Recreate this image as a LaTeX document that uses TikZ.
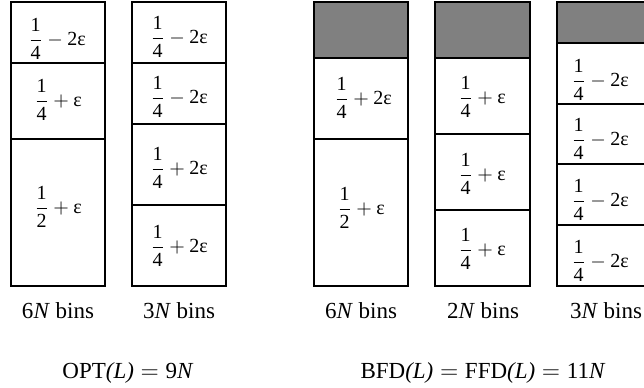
\documentclass[tikz,border=0pt]{standalone}
\usepackage{amsmath}
\usepackage{fontspec}
\setmainfont{Liberation Serif}

\newcommand{\eps}{\text{ε}}
\newcommand{\share}[2]{\dfrac{\text{#1}}{\text{#2}}}

\begin{document}
\begin{tikzpicture}[x=0.5pt,y=-0.5pt,
		bin/.style={line width=0.6pt},
		waste/.style={line width=0.6pt,fill=black!50},
		item/.style={font=\fontsize{10}{12}\selectfont},
		count/.style={anchor=base,font=\fontsize{11.5}{14}\selectfont}]
		\clip (0,0) rectangle (644,387);
		
		% OPT packing
		\draw[bin] (11,2) rectangle (105,286);
		\draw[bin] (11,63) -- (105,63);
		\draw[bin] (11,139) -- (105,139);
		\node[item] (oa1) at (57,39) {$\share{1}{4} - \text{2}\eps$};
		\node[item] (oa2) at (58,100) {$\share{1}{4} + \eps$};
		\node[item] (oa3) at (58,207) {$\share{1}{2} + \eps$};
		
		\draw[bin] (132,2) rectangle (226,286);
		\draw[bin] (132,63) -- (226,63);
		\draw[bin] (132,124) -- (226,124);
		\draw[bin] (132,205) -- (226,205);
		\node[item] (ob1) at (179,37) {$\share{1}{4} - \text{2}\eps$};
		\node[item] (ob2) at (179,97) {$\share{1}{4} - \text{2}\eps$};
		\node[item] (ob3) at (179,168) {$\share{1}{4} + \text{2}\eps$};
		\node[item] (ob4) at (179,246) {$\share{1}{4} + \text{2}\eps$};
		
		% BFD / FFD packing
		\draw[waste] (314,2) rectangle (408,58);
		\draw[bin] (314,2) rectangle (408,286);
		\draw[bin] (314,139) -- (408,139);
		\node[item] (fa1) at (363,98) {$\share{1}{4} + \text{2}\eps$};
		\node[item] (fa2) at (361,208) {$\share{1}{2} + \eps$};
		
		\draw[waste] (435,2) rectangle (530,58);
		\draw[bin] (435,2) rectangle (530,286);
		\draw[bin] (435,134) -- (530,134);
		\draw[bin] (435,210) -- (530,210);
		\node[item] (fb1) at (482,97) {$\share{1}{4} + \eps$};
		\node[item] (fb2) at (482,174) {$\share{1}{4} + \eps$};
		\node[item] (fb3) at (482,249) {$\share{1}{4} + \eps$};
		
		\draw[waste] (557,2) rectangle (651,43);
		\draw[bin] (557,2) rectangle (651,286);
		\draw[bin] (557,104) -- (651,104);
		\draw[bin] (557,164) -- (651,164);
		\draw[bin] (557,225) -- (651,225);
		\node[item] (fc1) at (600,80) {$\share{1}{4} - \text{2}\eps$};
		\node[item] (fc2) at (600,139) {$\share{1}{4} - \text{2}\eps$};
		\node[item] (fc3) at (600,200) {$\share{1}{4} - \text{2}\eps$};
		\node[item] (fc4) at (600,261) {$\share{1}{4} - \text{2}\eps$};
		
		% bin counts
		\node[count] (na) at (58,318) {6\textit{N} bins};
		\node[count] (nb) at (179,318) {3\textit{N} bins};
		\node[count] (nc) at (361,318) {6\textit{N} bins};
		\node[count] (nd) at (483,318) {2\textit{N} bins};
		\node[count] (ne) at (606,318) {3\textit{N} bins};
		
		\node[count] (opt) at (128,378) {OPT\textit{(L)}${}={}$9\textit{N}};
		\node[count] (bfd) at (483,378) {BFD\textit{(L)}${}={}$FFD\textit{(L)}${}={}$11\textit{N}};
\end{tikzpicture}
\end{document}
